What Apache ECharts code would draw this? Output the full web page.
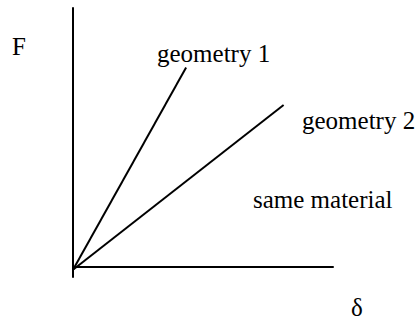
<!DOCTYPE html>
<html>
<head>
<meta charset="utf-8">
<script src="https://cdn.jsdelivr.net/npm/echarts@6/dist/echarts.min.js"></script>
<style>
  html, body { margin: 0; padding: 0; background: #fff; }
  #chart { width: 420px; height: 322px; }
</style>
</head>
<body>
<div id="chart"></div>
<script>
// data (axis units, 0..100)
var geometry1 = [[0, -1.2], [43.5, 77]];
var geometry2 = [[0, -1.2], [81, 62.5]];
var axisNames = ['F', 'δ'];
var lineNames = ['geometry 1', 'geometry 2'];
var note = 'same material';

var myChart = echarts.init(document.getElementById('chart'), null, { renderer: 'svg' });

var textStyle = function (txt, x, y) {
  return {
    type: 'text',
    left: x,
    top: y,
    style: {
      text: txt,
      fill: '#000',
      fontFamily: 'Liberation Serif',
      fontSize: 25
    }
  };
};

var option = {
  animation: false,
  backgroundColor: '#fff',
  grid: { left: 73, right: 87, top: 8, bottom: 45 },
  xAxis: {
    type: 'value', min: 0, max: 100,
    axisLine: { onZero: true, lineStyle: { color: '#000', width: 2 } },
    axisTick: { show: false }, axisLabel: { show: false }, splitLine: { show: false }
  },
  yAxis: {
    type: 'value', min: -4, max: 100,
    axisLine: { show: true, onZero: false, lineStyle: { color: '#000', width: 2 } },
    axisTick: { show: false }, axisLabel: { show: false }, splitLine: { show: false }
  },
  series: [
    {
      name: lineNames[0], type: 'line', data: geometry1, symbol: 'none',
      lineStyle: { color: '#000', width: 2 }
    },
    {
      name: lineNames[1], type: 'line', data: geometry2, symbol: 'none',
      lineStyle: { color: '#000', width: 2 }
    }
  ],
  // 글자 라벨
  graphic: [
    textStyle(axisNames[0], 12, 34),
    textStyle(lineNames[0], 157, 41),
    textStyle(lineNames[1], 302, 108),
    textStyle(note, 253, 187),
    textStyle(axisNames[1], 351, 295)
  ]
};

myChart.setOption(option);
</script>
</body>
</html>
